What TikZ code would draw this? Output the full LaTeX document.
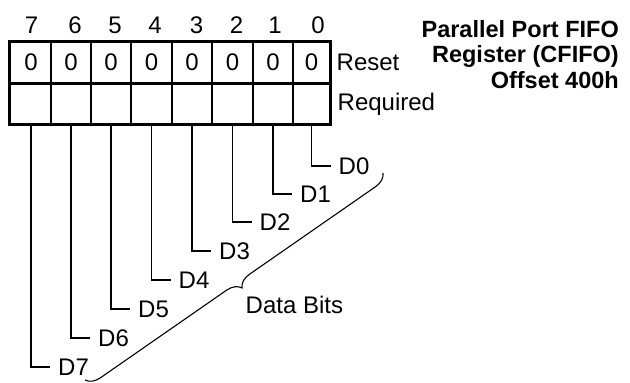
\documentclass[tikz,border=0pt]{standalone}
\usepackage{fontspec}
\setmainfont{Liberation Sans}
\usetikzlibrary{decorations.pathreplacing}
\begin{document}
\begin{tikzpicture}[x=1pt,y=-1pt,
  heavy/.style={line width=3pt},
  fine/.style={line width=1.1pt},
  txt/.style={font=\fontsize{24}{28}\selectfont, inner sep=0pt},
  ttl/.style={font=\bfseries\fontsize{23.5}{25.5}\selectfont, inner sep=0pt, align=right}]
\useasboundingbox (0,0) rectangle (630,383);
% grid
\foreach \x in {51,91,131,172,212,253,293}
  \draw[fine] (\x,41.5) -- (\x,124.5);
\draw[heavy] (9.5,41.5) rectangle (330.5,124.5);
\draw[heavy] (9.5,83) -- (330.5,83);
% cells, bit numbers, data lines
\foreach \i/\x/\nx/\y in {7/31/31.5/367, 6/71/75/338, 5/111/115/309, 4/151.5/155/280,
                          3/192/196.5/251, 2/232.5/236.5/222, 1/273/275/194, 0/311.5/318/166}{
  \node[txt] (n\i) at (\nx,25) {\i};
  \node[txt] (v\i) at (\x,62) {0};
  \coordinate (t\i) at (\x,124.5);
  \node[txt, anchor=west] (d\i) at (\x+27,\y) {D\i};
  \draw[fine] (t\i) |- ([xshift=-8pt]d\i.west);
}
\node[txt, anchor=west] (reset) at (336.5,62) {Reset};
\node[txt, anchor=west] (required) at (337.5,104) {Required};
\node[ttl, anchor=north east] (title) at (619,20) {Parallel Port FIFO\\Register (CFIFO)\\Offset 400h};
% brace
\coordinate (bA) at (383,173);
\coordinate (bB) at (85,380);
\draw[fine, decorate, decoration={brace, amplitude=14pt}] (bA) -- (bB);
\node[txt, anchor=west] (databits) at (245.5,305) {Data Bits};
\end{tikzpicture}
\end{document}
